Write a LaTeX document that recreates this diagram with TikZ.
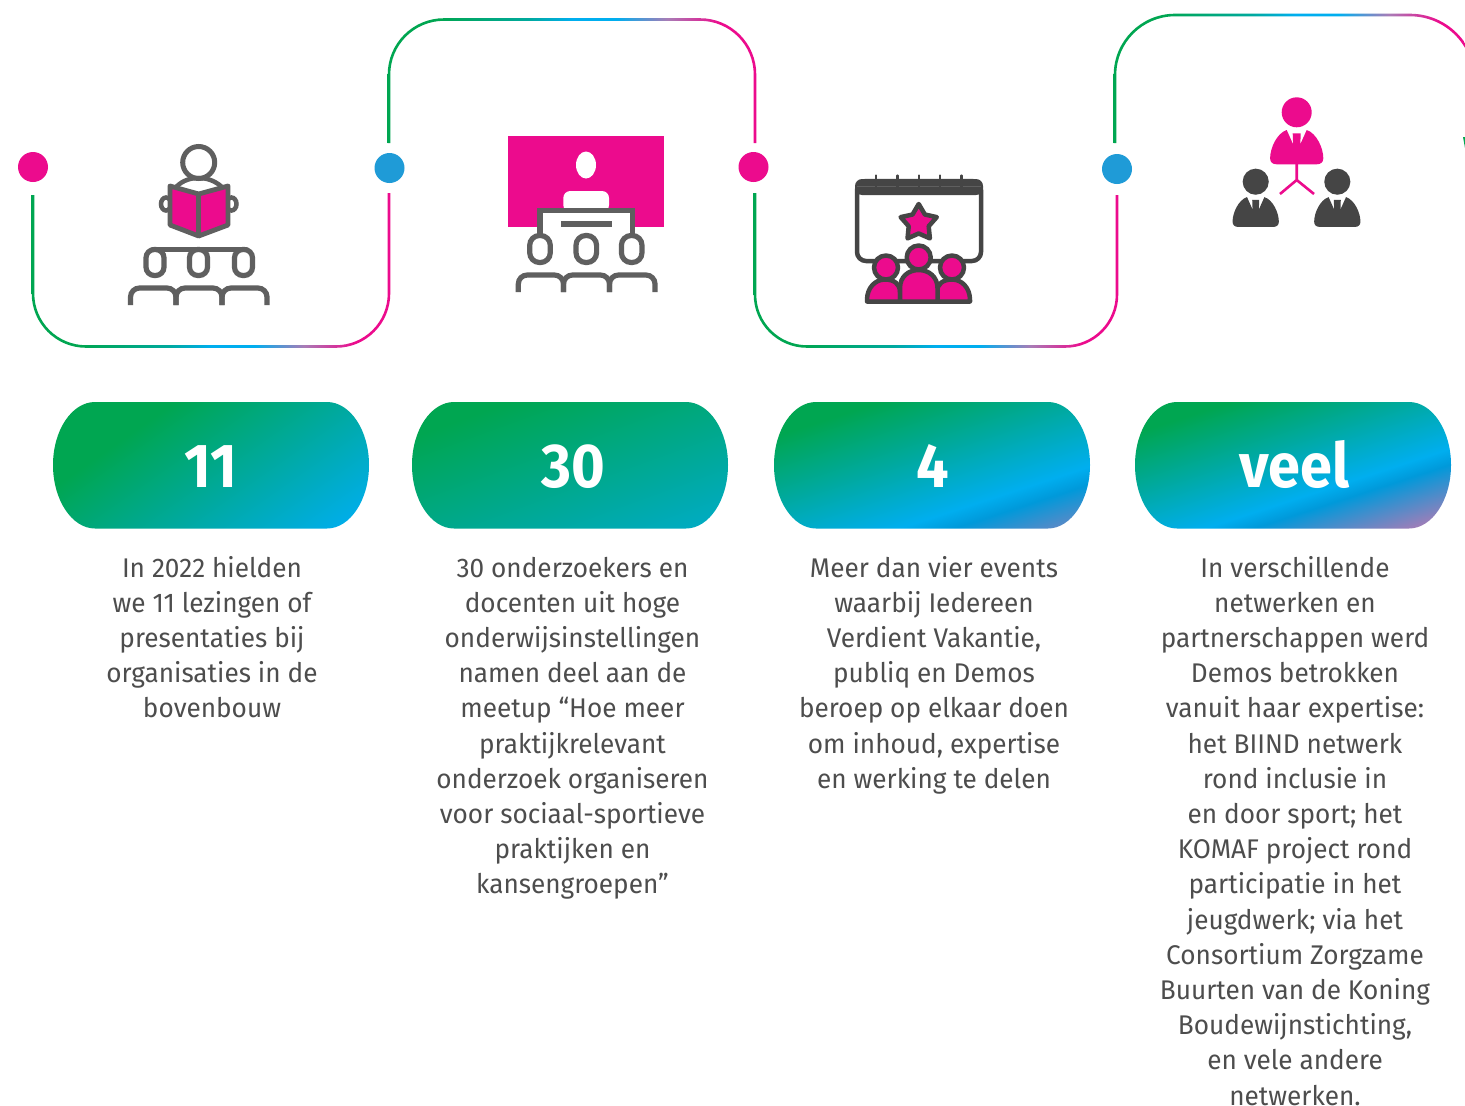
\documentclass[tikz,border=0pt]{standalone}
\usepackage{fontspec}
\setmainfont{Fira Sans}[BoldFont=* Bold,FakeStretch=0.97]
\newfontfamily\pillfont{Fira Sans}[UprightFont=* Bold,FakeStretch=0.93]
\definecolor{mag}{HTML}{EC0B8D}
\definecolor{dotblue}{HTML}{1F9BD7}
\definecolor{grn}{HTML}{00A651}
\definecolor{tealc}{HTML}{00A99D}
\definecolor{bluec}{HTML}{00AEEF}
\definecolor{crease}{HTML}{0099DA}
\definecolor{purp}{HTML}{A97CB6}
\definecolor{midg}{HTML}{5F5F5F}
\definecolor{darkg}{HTML}{454545}
\definecolor{txt}{HTML}{4D4D4D}
\pgfdeclareverticalshading{pillgrad}{100bp}{color(0bp)=(purp); color(37.4bp)=(purp); color(44bp)=(crease); color(45.9bp)=(bluec); color(53.1bp)=(tealc); color(59.9bp)=(grn); color(100bp)=(grn)}
\pgfdeclarehorizontalshading{linegrad}{100bp}{color(0bp)=(grn); color(25bp)=(grn); color(32bp)=(grn); color(44bp)=(tealc); color(50bp)=(bluec); color(56bp)=(bluec); color(63bp)=(purp); color(70bp)=(mag); color(100bp)=(mag)}
% ribbon: xl xr yl yr yh rl rr s
\newcommand\ribbon[8]{%
 \pgfmathsetmacro\w{1.3}\pgfmathsetmacro\k{0.5523}%
 \pgfmathsetmacro\s{#8}%
 \pgfmathsetmacro\Rl{(#6+\w)*\k}\pgfmathsetmacro\rl{(#6-\w)*\k}%
 \pgfmathsetmacro\Rr{(#7+\w)*\k}\pgfmathsetmacro\rr{(#7-\w)*\k}%
 \shade[shading=linegrad]
  ({#1-\w},#3) -- ({#1-\w},{#5-\s*#6})
  .. controls ({#1-\w},{#5-\s*#6+\s*\Rl}) and ({#1+#6-\Rl},{#5+\s*\w}) .. ({#1+#6},{#5+\s*\w})
  -- ({#2-#7},{#5+\s*\w})
  .. controls ({#2-#7+\Rr},{#5+\s*\w}) and ({#2+\w},{#5-\s*#7+\s*\Rr}) .. ({#2+\w},{#5-\s*#7})
  -- ({#2+\w},#4) -- ({#2-\w},#4) -- ({#2-\w},{#5-\s*#7})
  .. controls ({#2-\w},{#5-\s*#7+\s*\rr}) and ({#2-#7+\rr},{#5-\s*\w}) .. ({#2-#7},{#5-\s*\w})
  -- ({#1+#6},{#5-\s*\w})
  .. controls ({#1+#6-\rl},{#5-\s*\w}) and ({#1+\w},{#5-\s*#6+\s*\rl}) .. ({#1+\w},{#5-\s*#6})
  -- ({#1+\w},#3) -- cycle;}
% pill: xc angle S t0 name label labelx
\newcommand\pill[7]{%
 \pgfmathsetmacro\cx{#1+#4*sin(#2)}\pgfmathsetmacro\cy{465+#4*cos(#2)}%
 \begin{scope}
 \clip ({#1-158},465) .. controls ({#1-158},430) and ({#1-139},402) .. ({#1-116},402)
   -- ({#1+116},402) .. controls ({#1+139},402) and ({#1+158},430) .. ({#1+158},465)
   .. controls ({#1+158},500) and ({#1+139},528.5) .. ({#1+116},528.5)
   -- ({#1-116},528.5) .. controls ({#1-139},528.5) and ({#1-158},500) .. ({#1-158},465) -- cycle;
 \shade[shading=pillgrad,shading angle=#2] ({\cx-#3/2},{\cy-#3/2}) rectangle ({\cx+#3/2},{\cy+#3/2});
 \end{scope}
 \node[pilltext] (#5) at (#7,487) {#6};}
% person: cx cy scale colour
\newcommand\person[4]{%
 \begin{scope}[shift={(#1,#2)},scale=#3]
 \fill[#4] (0,0) circle[radius=15];
 \fill[#4] (-10,17.7) -- (-3.6,32) -- (-4,21) -- (4,21) -- (3.6,32) -- (10,17.7)
  .. controls (20,21) and (26.6,36) .. (26.6,46)
  .. controls (26.6,50) and (24,52) .. (20,52) -- (-20,52)
  .. controls (-24,52) and (-26.6,50) .. (-26.6,46)
  .. controls (-26.6,36) and (-20,21) .. (-10,17.7) -- cycle;
 \end{scope}}
\tikzset{
 dotn/.style={circle,minimum size=30pt,inner sep=0pt,fill=#1},
 pilltext/.style={anchor=base,text=white,font=\fontsize{62}{62}\pillfont,inner sep=0pt},
 para/.style={anchor=north,align=center,text=txt,inner sep=0pt,font=\fontsize{27}{35.2}\selectfont},
 grayline/.style={draw=midg,line width=5.2pt},
 seat/.style={draw=midg,line width=5.2pt,rounded corners=9pt,line cap=butt},
 dk/.style={draw=darkg,line width=4.5pt,line join=round},
}
\newcommand\fl{\rule{0pt}{24.64pt}}
\begin{document}
\begin{tikzpicture}[x=1pt,y=-1pt]
\useasboundingbox (0,0) rectangle (1465,1106);
\clip (0,0) rectangle (1465,1106);
\fill[white] (0,0) rectangle (1465,1106);
% connectors
\ribbon{33}{389}{195}{193}{346.5}{53}{53}{1}
\ribbon{389}{755}{143}{143}{19.5}{55}{55}{-1}
\ribbon{755}{1117}{193}{195}{346.5}{52}{52}{1}
\ribbon{1115}{1475}{143}{143}{15}{60}{65}{-1}
\fill[grn] (1463,137) -- (1465,137) -- (1465,148) -- cycle;
% dots
\node[dotn=mag] (d1) at (33,167) {};
\node[dotn=dotblue] (d2) at (389.5,168) {};
\node[dotn=mag] (d3) at (753.5,167) {};
\node[dotn=dotblue] (d4) at (1117,169) {};
% icon 1
\draw[midg,line width=4.5pt] (166,204) ellipse[x radius=5,y radius=6.5];
\draw[midg,line width=4.5pt] (231.5,204) ellipse[x radius=5,y radius=6.5];
\draw[midg,line width=5pt] (198.7,162.5) circle[radius=16];
\draw[midg,line width=4.5pt] (176,187) .. controls (183,180) and (191,178) .. (198.7,178) .. controls (206,178) and (214,180) .. (222,187);
\draw[midg,fill=mag,line width=4.8pt,line join=round] (170,186) -- (198.7,194) -- (228,186) -- (228,225) -- (198.7,236) -- (170,225) -- cycle;
\draw[midg,line width=5pt] (198.7,194) -- (198.7,236);
\draw[grayline,rounded corners=8.4pt] (146,249.5) rectangle (164,275.5);
\draw[grayline,rounded corners=8.4pt] (189.5,249.5) rectangle (207.5,275.5);
\draw[grayline,rounded corners=8.4pt] (234.5,249.5) rectangle (252.5,275.5);
\draw[grayline,line cap=round] (153,249.5) -- (246,249.5);
\draw[seat] (130.5,305) -- (130.5,288) -- (176,288) -- (176,305);
\draw[seat] (176,305) -- (176,288) -- (222,288) -- (222,305);
\draw[seat] (222,305) -- (222,288) -- (267,288) -- (267,305);
% icon 2
\fill[mag] (508.3,136) rectangle (664.3,226.7);
\fill[white] (586,165) ellipse[x radius=10,y radius=13.5];
\fill[white,rounded corners=7pt] (563.3,212) -- (563.3,191) -- (609,191) -- (609,212) -- cycle;
\fill[white] (540,210) rectangle (632.7,227);
\draw[grayline] (540,236) -- (540,210.5) -- (632.7,210.5) -- (632.7,236);
\fill[midg] (560.7,220.7) rectangle (612,226.7);
\draw[grayline,rounded corners=9.8pt] (529.7,235.5) rectangle (550.3,262.5);
\draw[grayline,rounded corners=9.8pt] (576,235.5) rectangle (596.6,262.5);
\draw[grayline,rounded corners=9.8pt] (621.4,235.5) rectangle (642,262.5);
\draw[seat] (518.3,292) -- (518.3,275) -- (563.5,275) -- (563.5,292);
\draw[seat] (563.5,292) -- (563.5,275) -- (609.5,275) -- (609.5,292);
\draw[seat] (609.5,292) -- (609.5,275) -- (655,275) -- (655,292);
% icon 3
\draw[dk,fill=white,rounded corners=9pt] (857,181) rectangle (981,261);
\fill[darkg,rounded corners=7pt] (855,179) -- (983,179) -- (983,195) -- (855,195) -- cycle;
\draw[midg,line width=.7pt] (857,186.5) -- (981,186.5);
\foreach \tx in {876,897.3,918.7,940,961.3}{\draw[darkg,line width=2.4pt,line cap=round] (\tx,175.5) -- (\tx,187);}
\draw[dk,fill=mag] (918.7,204)
 \foreach \ang in {1,...,4}{ -- ({918.7+10.5*sin(36*(2*\ang-1))},{223-10.5*cos(36*(2*\ang-1))}) -- ({918.7+19*sin(72*\ang)},{223-19*cos(72*\ang)}) }
 -- ({918.7+10.5*sin(324)},{223-10.5*cos(324)}) -- cycle;
\draw[dk,fill=mag] (867,301.5) -- (867,300) .. controls (867,288) and (875,279.5) .. (885,279.5) .. controls (894,279.5) and (900,284) .. (900,292) -- (900,301.5) -- cycle;
\draw[dk,fill=mag] (970,301.5) -- (970,300) .. controls (970,288) and (962,279.5) .. (952,279.5) .. controls (943,279.5) and (937,284) .. (937,292) -- (937,301.5) -- cycle;
\draw[dk,fill=mag] (900,301.5) -- (900,288) .. controls (900,277) and (908,270) .. (918.7,270) .. controls (929,270) and (937.5,277) .. (937.5,288) -- (937.5,301.5) -- cycle;
\draw[dk,fill=mag] (886,267.5) circle[radius=12];
\draw[dk,fill=mag] (952,267.5) circle[radius=12];
\draw[dk,fill=mag] (918.7,257.5) circle[radius=12];
% icon 4
\person{1296.7}{112.3}{1}{mag}
\person{1255.7}{181.7}{.87}{darkg}
\person{1337.3}{181.7}{.87}{darkg}
\draw[mag,line width=2.6pt] (1296.7,164) -- (1296.7,180) -- (1280,194);
\draw[mag,line width=2.6pt] (1296.7,180) -- (1314,194);
% pills
\pill{211}{35}{732}{72.6}{p1}{11}{211}
\pill{570}{20}{912}{100}{p2}{30}{573}
\pill{932}{18}{450}{13}{p3}{4}{933}
\pill{1293}{18}{400}{0}{p4}{veel}{1294.5}
% paragraphs
\node[para] (t1) at (212,552.2) {\fl In 2022 hielden\\we 11 lezingen of\\presentaties bij\\organisaties in de\\bovenbouw};
\node[para] (t2) at (572.5,552.2) {\fl 30 onderzoekers en\\docenten uit hoge\\onderwijsinstellingen\\namen deel aan de\\meetup “Hoe meer\\praktijkrelevant\\onderzoek organiseren\\voor sociaal-sportieve\\praktijken en\\kansengroepen”};
\node[para] (t3) at (934,552.2) {\fl Meer dan vier events\\waarbij Iedereen\\Verdient Vakantie,\\publiq en Demos\\beroep op elkaar doen\\om inhoud, expertise\\en werking te delen};
\node[para] (t4) at (1295,552.2) {\fl In verschillende\\netwerken en\\partnerschappen werd\\Demos betrokken\\vanuit haar expertise:\\het BIIND netwerk\\rond inclusie in\\en door sport; het\\KOMAF project rond\\participatie in het\\jeugdwerk; via het\\Consortium Zorgzame\\Buurten van de Koning\\Boudewijnstichting,\\en vele andere\\netwerken.};
\end{tikzpicture}
\end{document}
